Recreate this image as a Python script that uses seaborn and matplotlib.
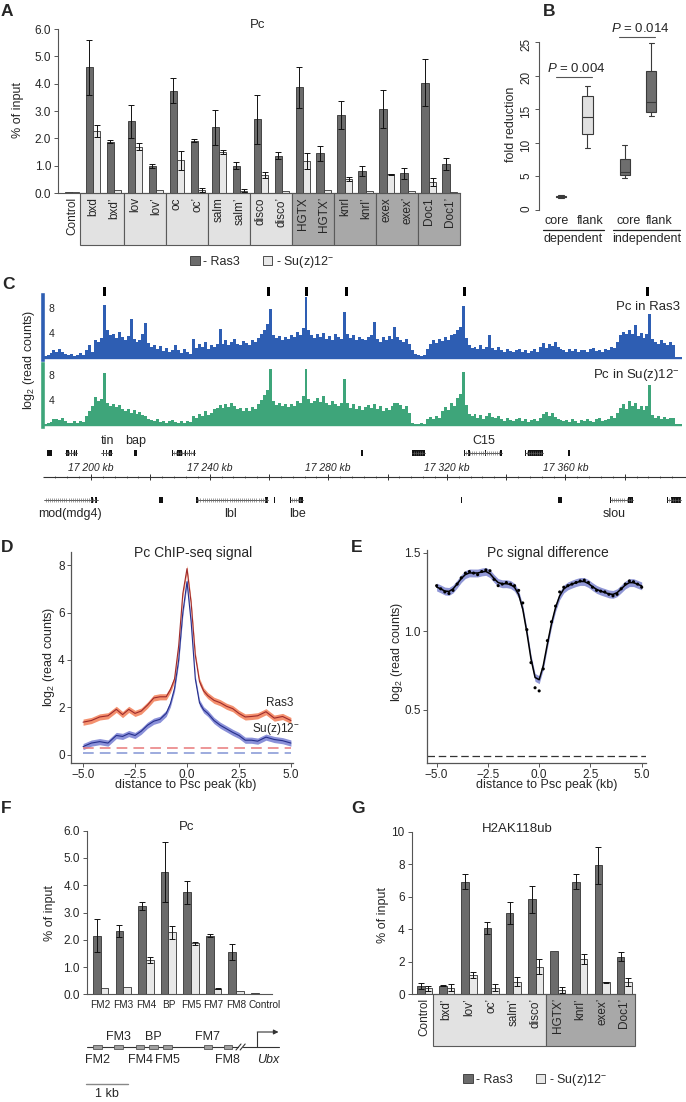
import numpy as np
import pandas as pd
import seaborn as sns
import matplotlib.pyplot as plt
from matplotlib.patches import Rectangle, Patch
from matplotlib.lines import Line2D
from matplotlib.transforms import ScaledTranslation

# ---------------- data ----------------
# Panel A: Pc ChIP-qPCR, % of input
a_sites = ["Control", "bxd", "bxd’", "lov", "lov’", "oc", "oc’", "salm", "salm’",
           "disco", "disco’", "HGTX", "HGTX’", "knrl", "knrl’", "exex", "exex’",
           "Doc1", "Doc1’"]
a_ras3 = [0.03, 4.60, 1.88, 2.62, 1.00, 3.75, 1.92, 2.40, 1.00, 2.70, 1.37,
          3.87, 1.45, 2.85, 0.80, 3.07, 0.72, 4.04, 1.06]
a_ras3_err = [0.0, 1.00, 0.05, 0.60, 0.07, 0.47, 0.05, 0.65, 0.13, 0.90, 0.12,
              0.75, 0.28, 0.50, 0.18, 0.70, 0.21, 0.85, 0.21]
a_suz12 = [0.02, 2.28, 0.10, 1.70, 0.10, 1.20, 0.10, 1.50, 0.08, 0.66, 0.08,
           1.17, 0.10, 0.52, 0.06, 0.68, 0.06, 0.41, 0.04]
a_suz12_err = [0.0, 0.22, 0.0, 0.13, 0.0, 0.35, 0.07, 0.08, 0.05, 0.10, 0.0,
               0.30, 0.0, 0.08, 0.0, 0.02, 0.0, 0.15, 0.0]

# Panel B: fold reduction (five-number summaries per group)
b_group = ["dependent"] * 10 + ["independent"] * 10
b_region = (["core"] * 5 + ["flank"] * 5) * 2
b_fold = [1.8, 1.9, 2.0, 2.1, 2.2,
          9.3, 11.3, 13.8, 16.9, 18.5,
          4.7, 5.2, 5.7, 7.6, 9.6,
          14.0, 14.6, 16.0, 20.7, 24.9]
b_pvalues = ["0.004", "0.014"]

# Panel C: genome browser tracks, 1 kb bins starting at 17 184 kb
track_start_kb = 17184
ras3_track = [
    0.3, 0.4, 0.8, 1.2, 1.0, 1.4, 0.9, 0.6, 0.4, 0.6, 0.3, 0.5, 0.8, 0.4,
    1.2, 2.1, 1.0, 2.9, 2.5, 3.2, 8.5, 4.5, 3.6, 3.9, 3.2, 4.1, 3.4, 2.8, 3.5,
    6.2, 3.0, 2.6, 2.9, 3.8, 5.6,
    2.4, 1.8, 2.1, 1.4, 1.9, 1.1, 1.6, 0.9, 1.3, 2.0, 1.2, 0.8, 1.5, 1.0, 0.7,
    3.0, 1.6, 2.2, 1.8, 2.5, 1.4, 2.0, 1.7, 2.3, 4.6,
    2.2, 2.8, 2.0, 2.6, 3.0, 2.3, 2.1, 2.7, 2.4, 2.0, 2.9, 2.5,
    3.2, 3.9, 4.4, 5.5, 7.9,
    3.6, 3.2, 3.5, 2.9, 3.4, 3.1, 3.7, 3.3, 4.2, 3.6, 4.8, 9.7,
    4.5, 3.6, 3.2, 3.9, 3.3, 4.0, 3.1, 3.5, 2.9, 3.8, 3.4, 3.0, 7.4,
    3.8, 3.2, 3.6, 2.9, 3.4, 3.1, 2.8, 3.3, 3.7, 5.8,
    3.1, 2.6, 3.3, 2.8, 3.5, 3.0, 5.0, 3.4, 2.8, 2.5, 3.0, 2.2,
    1.2, 0.7, 0.4, 0.3, 0.5, 1.5, 2.2, 2.8, 2.4, 3.0,
    2.7, 3.3, 2.9, 3.6, 3.8, 4.5, 5.0, 8.3,
    3.2, 2.0, 1.6, 1.8, 1.4, 2.1, 1.5, 1.7, 3.7, 1.6, 1.3, 1.8,
    1.2, 1.0, 1.4, 1.1, 0.9, 1.3, 1.5, 1.0, 1.2, 0.8, 1.1, 1.4, 1.0,
    1.8, 2.4, 1.6, 2.2, 1.9, 2.6, 1.7, 1.5,
    1.2, 1.0, 1.4, 1.1, 1.5, 0.9, 1.3, 1.2, 1.0, 1.4, 1.6, 1.1, 1.3, 1.0, 1.5,
    1.2, 1.8, 1.6,
    2.5, 3.6, 4.2, 3.8, 4.5, 3.9, 5.3, 3.5, 4.0, 3.2, 3.8, 7.0,
    3.0, 2.6, 2.2, 2.8, 2.4, 2.0, 2.5, 2.1, 0.1, 0.1, 0.1]
suz12_track = [
    0.2, 0.3, 0.5, 0.9, 1.0, 0.8, 1.1, 0.6, 0.4, 0.3, 0.6, 0.4, 0.7, 0.5,
    1.5, 2.3, 3.0, 4.5, 3.8, 4.2, 8.3, 3.5, 3.1, 3.4, 2.9, 3.2, 2.6, 2.2, 2.5,
    2.0, 2.4, 1.8, 2.1, 1.6,
    1.4, 1.0, 0.8, 0.6, 0.9, 0.5, 0.7, 0.4, 0.6, 0.8, 0.5, 0.3, 0.6, 0.4, 0.7,
    0.5, 1.5, 1.2, 1.8, 1.4, 2.3, 1.6, 2.0, 2.5, 2.8,
    3.2, 2.7, 3.4, 2.9, 3.5, 3.0, 2.6, 2.8, 2.3, 2.7, 2.2, 2.9, 2.5,
    3.4, 4.0, 4.8, 5.6, 9.0,
    3.8, 3.2, 3.5, 3.0, 3.4, 2.9, 3.3, 3.1, 3.9, 3.5, 4.6, 8.9,
    4.2, 3.6, 3.9, 4.4, 3.7, 4.6, 3.5, 3.2, 3.8, 3.4, 3.0, 3.6, 7.3,
    3.5, 2.8, 3.3, 2.6, 3.1, 2.4, 2.9, 3.2, 2.7, 3.4,
    2.5, 3.0, 2.2, 2.8, 2.4, 3.1, 3.6, 3.5, 3.2, 2.6, 3.0, 2.0,
    0.4, 0.2, 0.2, 0.3, 0.2, 1.0, 1.3, 0.9, 1.5, 1.2,
    2.2, 2.9, 2.4, 3.6, 3.0, 4.3, 5.0, 8.5,
    3.2, 1.8, 1.5, 1.7, 1.2, 1.6, 1.0, 1.4, 2.0, 1.3, 1.1, 1.5,
    0.9, 0.7, 1.1, 0.8, 0.6, 1.0, 1.2, 0.7, 0.9, 0.5, 0.8, 1.0, 0.6,
    1.2, 1.7, 2.1, 1.5, 1.9, 1.3, 1.0, 0.8,
    0.6, 0.8, 0.5, 0.9, 0.7, 0.4, 0.8, 0.6, 1.0, 0.7, 0.5, 0.9, 1.1, 0.6, 0.8,
    1.0, 1.4, 1.2,
    2.0, 2.8, 3.4, 2.6, 3.8, 3.0, 3.5, 2.6, 3.1, 2.4, 3.0, 6.4,
    1.6, 1.2, 1.4, 1.0, 1.3, 0.9, 1.2, 1.1, 0.1, 0.1, 0.1]
peak_kb = [17204.4, 17260.0, 17272.8, 17286.3, 17325.8, 17387.8]

# gene models (kb): start, end, exons, label, label position
genes_top = [
    (17185.1, 17186.8, [(17185.1, 17186.8)], "", None),
    (17191.2, 17195.3, [(17191.6, 17192.6), (17193.3, 17193.6), (17194.3, 17194.6), (17194.9, 17195.3)], "", None),
    (17203.5, 17207.2, [(17204.0, 17204.4), (17205.0, 17205.3), (17206.0, 17207.0)], "tin", 17205.6),
    (17214.5, 17215.5, [(17214.5, 17215.5)], "bap", 17215.0),
    (17227.3, 17234.9, [(17227.3, 17227.6), (17229.0, 17230.7), (17231.6, 17231.9), (17232.9, 17233.2), (17234.6, 17234.9)], "", None),
    (17291.0, 17291.7, [(17291.0, 17291.7)], "", None),
    (17308.2, 17312.6, [(17308.2, 17312.6)], "", None),
    (17325.8, 17338.5, [(17325.8, 17326.1), (17327.3, 17327.6), (17333.0, 17333.3), (17337.9, 17338.5)], "C15", 17332.4),
    (17346.3, 17352.5, [(17346.3, 17346.6), (17347.4, 17352.3)], "", None),
    (17360.9, 17361.6, [(17360.9, 17361.6)], "", None),
]
genes_bottom = [
    (17184.0, 17202.2, [(17200.0, 17200.7), (17201.3, 17202.0)], "mod(mdg4)", 17192.9),
    (17222.9, 17224.2, [(17222.9, 17224.2)], "", None),
    (17235.5, 17259.7, [(17235.5, 17236.0), (17258.8, 17259.7)], "lbl", 17247.2),
    (17261.7, 17261.9, [(17261.7, 17261.9)], "", None),
    (17267.1, 17271.5, [(17267.1, 17267.4), (17270.1, 17271.5)], "lbe", 17269.8),
    (17324.8, 17325.1, [(17324.8, 17325.1)], "", None),
    (17357.5, 17358.8, [(17357.5, 17358.8)], "", None),
    (17375.0, 17382.8, [(17375.0, 17375.4), (17381.1, 17382.8)], "slou", 17376.5),
    (17394.3, 17399.0, [(17394.3, 17394.6), (17395.6, 17399.0)], "", None),
]

# Panel D: Pc ChIP-seq meta profile
d_dist = [-5.0, -4.6, -4.2, -3.8, -3.4, -3.1, -2.8, -2.5, -2.2, -1.9, -1.6, -1.3,
          -1.0, -0.8, -0.6, -0.4, -0.2, 0.0, 0.2, 0.4, 0.6, 0.8, 1.0, 1.3, 1.6,
          1.9, 2.2, 2.5, 2.8, 3.1, 3.4, 3.8, 4.2, 4.6, 5.0]
d_ras3 = [1.38, 1.45, 1.60, 1.65, 1.92, 1.70, 1.92, 1.75, 1.85, 2.10, 2.40, 2.45,
          2.45, 2.75, 3.20, 4.60, 6.80, 7.85, 6.40, 4.20, 3.10, 2.70, 2.50, 2.30,
          2.20, 2.05, 1.95, 1.75, 1.60, 1.62, 1.65, 1.82, 1.55, 1.62, 1.45]
d_suz12 = [0.35, 0.50, 0.56, 0.50, 0.82, 0.78, 0.90, 0.82, 1.00, 1.25, 1.42, 1.50,
           1.75, 2.15, 2.80, 4.00, 6.00, 7.30, 5.60, 3.20, 2.20, 1.90, 1.75, 1.45,
           1.25, 1.10, 0.95, 0.82, 0.62, 0.62, 0.58, 0.75, 0.65, 0.60, 0.50]
d_ras3_bg = 0.30
d_suz12_bg = 0.10

# Panel E: Pc signal difference (Ras3 - Su(z)12-)
e_dist = np.round(np.linspace(-5, 5, 51), 1)
e_diff = [1.29, 1.27, 1.25, 1.24, 1.26, 1.30, 1.34, 1.37, 1.38, 1.37, 1.36, 1.38,
          1.39, 1.385, 1.33, 1.29, 1.30, 1.31, 1.30, 1.29, 1.26, 1.18, 1.01, 0.80,
          0.64, 0.62, 0.76, 0.94, 1.06, 1.16, 1.25, 1.28, 1.29, 1.30, 1.31, 1.32,
          1.325, 1.31, 1.28, 1.26, 1.255, 1.25, 1.235, 1.225, 1.235, 1.27, 1.30,
          1.32, 1.315, 1.30, 1.28]
e_background = 0.207

# Panel F: Pc along Ubx upstream region
f_sites = ["FM2", "FM3", "FM4", "BP", "FM5", "FM7", "FM8", "Control"]
f_ras3 = [2.15, 2.32, 3.25, 4.47, 3.74, 2.15, 1.54, 0.04]
f_ras3_err = [0.60, 0.22, 0.15, 1.10, 0.42, 0.05, 0.30, 0.0]
f_suz12 = [0.24, 0.28, 1.26, 2.27, 1.87, 0.21, 0.11, 0.01]
f_suz12_err = [0.0, 0.0, 0.10, 0.25, 0.06, 0.02, 0.0, 0.0]
# Ubx map (kb from left end)
f_map_names = ["FM2", "FM3", "FM4", "BP", "FM5", "FM7", "FM8"]
f_map_start = [0.15, 0.66, 1.19, 1.49, 1.83, 2.81, 3.29]
f_map_end = [0.37, 0.87, 1.38, 1.71, 2.05, 3.00, 3.48]
f_map_above = [False, True, False, True, False, True, False]
f_ubx_tss = 4.09

# Panel G: H2AK118ub
g_sites = ["Control", "bxd’", "lov’", "oc’", "salm’", "disco’", "HGTX’", "knrl’",
           "exex’", "Doc1’"]
g_ras3 = [0.53, 0.53, 6.93, 4.10, 5.02, 5.84, 2.68, 6.93, 7.93, 2.32]
g_ras3_err = [0.18, 0.05, 0.45, 0.37, 0.68, 0.84, 0.0, 0.45, 1.15, 0.26]
g_suz12 = [0.37, 0.41, 1.19, 0.41, 0.78, 1.70, 0.27, 2.17, 0.74, 0.76]
g_suz12_err = [0.15, 0.20, 0.20, 0.20, 0.30, 0.45, 0.16, 0.30, 0.03, 0.22]

# ---------------- style ----------------
sns.set_theme(style="ticks")
plt.rcParams["font.family"] = ["Liberation Sans", "DejaVu Sans"]
plt.rcParams["mathtext.fontset"] = "custom"
plt.rcParams["mathtext.rm"] = "Liberation Sans"
plt.rcParams["mathtext.it"] = "Liberation Sans:italic"
plt.rcParams["mathtext.default"] = "regular"
plt.rcParams["font.size"] = 8

DARK = "#6b6b6b"
LIGHT = "#e8e8e8"
BOX_LIGHT = "#e2e2e2"
BOX_DARK = "#a8a8a8"
BLUE = "#2e5eb3"
GREEN = "#3ea57a"
W, H = 686, 1102

fig = plt.figure(figsize=(W / 100, H / 100), dpi=100)


def px_axes(x0, y0, x1, y1):
    return fig.add_axes([x0 / W, 1 - y1 / H, (x1 - x0) / W, (y1 - y0) / H])


def ftext(x, y, s, **kw):
    kw.setdefault("ha", "center")
    kw.setdefault("va", "center")
    kw.setdefault("fontsize", 8.5)
    fig.text(x / W, 1 - y / H, s, **kw)


def fline(xs, ys, **kw):
    fig.add_artist(Line2D([x / W for x in xs], [1 - y / H for y in ys], **kw))


def bar_panel(ax, sites, ras3, ras3_err, suz, suz_err, width):
    n = len(sites)
    df = pd.DataFrame({"site": sites + sites,
                       "strain": ["Ras3"] * n + ["Su(z)12"] * n,
                       "value": ras3 + suz})
    sns.barplot(data=df, x="site", y="value", hue="strain", order=sites,
                palette={"Ras3": DARK, "Su(z)12": LIGHT}, saturation=1,
                width=width, errorbar=None, edgecolor="#333333", linewidth=0.6,
                legend=False, ax=ax)
    for cont, errs in zip(list(ax.containers[:2]), [ras3_err, suz_err]):
        for bar in cont:
            xc = bar.get_x() + bar.get_width() / 2
            i = int(round(xc))
            if errs[i] > 0:
                ax.errorbar(xc, bar.get_height(), yerr=errs[i], fmt="none",
                            ecolor="#111111", elinewidth=0.7, capsize=2.2,
                            capthick=0.7, zorder=3)
    ax.set_xlabel("")
    ax.set_ylabel("")
    sns.despine(ax=ax)
    for sp in ax.spines.values():
        sp.set_color("#555555")
        sp.set_linewidth(0.8)
    ax.tick_params(axis="y", labelsize=8.5, length=3, width=0.7, color="#555555", pad=2)


def site_table(ax, sites, boxes, label_y, box_bottom):
    tr = ax.get_xaxis_transform()
    for x0, x1, color in boxes:
        ax.add_patch(Rectangle((x0, box_bottom), x1 - x0, -box_bottom, transform=tr,
                               clip_on=False, fc=color, ec="#5a5a5a", lw=0.8, zorder=0))
    ax.set_xticks([])
    for i, s in enumerate(sites):
        ax.text(i, label_y, s, transform=tr, rotation=90, ha="center", va="top",
                fontsize=8.5)


def strain_legend(x, y):
    handles = [Patch(fc=DARK, ec="#333333", lw=0.6), Patch(fc=LIGHT, ec="#333333", lw=0.6)]
    fig.legend(handles, ["- Ras3", "- Su(z)12$^{-}$"], ncol=2, frameon=False,
               handlelength=0.75, handleheight=0.75, handletextpad=0.3,
               columnspacing=1.8, fontsize=9, loc="center",
               bbox_to_anchor=(x / W, 1 - y / H), bbox_transform=fig.transFigure)


# ---------------- panel A ----------------
ax_a = px_axes(58, 29, 460, 193)
bar_panel(ax_a, a_sites, a_ras3, a_ras3_err, a_suz12, a_suz12_err, 0.71)
ax_a.set_xlim(-0.667, 18.48)
ax_a.set_ylim(0, 6)
ax_a.set_yticks(np.arange(0, 6.1, 1.0))
ax_a.set_yticklabels([f"{v:.1f}" for v in np.arange(0, 6.1, 1.0)])
a_boxes = [(0.4, 2.5, BOX_LIGHT), (2.5, 4.5, BOX_LIGHT), (4.5, 6.5, BOX_LIGHT),
           (6.5, 8.5, BOX_LIGHT), (8.5, 10.5, BOX_LIGHT), (10.5, 12.5, BOX_DARK),
           (12.5, 14.5, BOX_DARK), (14.5, 16.5, BOX_DARK), (16.5, 18.5, BOX_DARK)]
site_table(ax_a, a_sites, a_boxes, -0.025, -52 / 164)
ftext(258, 25, "Pc", fontsize=9.5)
ftext(18, 110, "% of input", rotation=90, fontsize=9)
strain_legend(262, 262)

# ---------------- panel B ----------------
ax_b = px_axes(539, 42, 686, 210)
b_df = pd.DataFrame({"group": b_group, "region": b_region, "fold": b_fold})
b_df["pos"] = (b_df["group"].map({"dependent": 0.0, "independent": 2.46})
               + b_df["region"].map({"core": 0.0, "flank": 1.02}))
sns.boxplot(data=b_df, x="pos", y="fold", hue="group", native_scale=True, dodge=False,
            palette={"dependent": "#e0e0e0", "independent": "#6e6e6e"}, saturation=1,
            width=0.38, linecolor="#3a3a3a", linewidth=0.8, fliersize=0,
            legend=False, ax=ax_b)
ax_b.set_xlim(-0.846, 4.81)
ax_b.set_ylim(0, 25)
ax_b.set_yticks(range(0, 26, 5))
ax_b.set_xticks([])
ax_b.set_xlabel("")
ax_b.set_ylabel("")
sns.despine(ax=ax_b, bottom=True)
ax_b.spines["left"].set_color("#555555")
ax_b.spines["left"].set_linewidth(0.8)
ax_b.tick_params(axis="y", labelrotation=90, labelsize=8.5, length=3, width=0.7,
                 color="#555555", pad=2)
ftext(511, 124, "fold reduction", rotation=90, fontsize=9)
fline([556, 592], [77, 77], color="#555555", lw=0.8)
fline([619, 655], [37, 37], color="#555555", lw=0.8)
ftext(576, 68, r"$\mathit{P}$ = " + b_pvalues[0], fontsize=9.5)
ftext(640, 28, r"$\mathit{P}$ = " + b_pvalues[1], fontsize=9.5)
for xc, s in zip([557, 590, 629, 659], ["core", "flank", "core", "flank"]):
    ftext(xc, 221, s, fontsize=9)
fline([543, 604], [230, 230], color="#222222", lw=0.9)
fline([613, 680], [230, 230], color="#222222", lw=0.9)
ftext(573, 239, "dependent", fontsize=9)
ftext(647, 239, "independent", fontsize=9)

# ---------------- panel C ----------------
PX_PER_KB = 2.965


def kb_at(x):
    return track_start_kb + (x - 43.6) / PX_PER_KB


bin_centers = track_start_kb + 0.5 + np.arange(len(ras3_track))
for (y0, y1, zero_px, vals, color) in [(295, 360, 358, ras3_track, BLUE),
                                       (364, 427, 425, suz12_track, GREEN)]:
    ax = px_axes(43, y0, 682, y1)
    ax.bar(bin_centers, vals, width=1.0, color=color, lw=0)
    ax.axhline(0, color=color, lw=1.0)
    ax.set_xlim(kb_at(43), kb_at(682))
    ax.set_ylim(-(y1 - zero_px) / 6.25, (zero_px - y0) / 6.25)
    ax.set_xticks([])
    ax.set_yticks([4, 8])
    ax.tick_params(axis="y", length=0, pad=-4, labelsize=7.5)
    for lab in ax.get_yticklabels():
        lab.set_ha("left")
    for side in ["top", "right", "bottom"]:
        ax.spines[side].set_visible(False)
    ax.spines["left"].set_color(color)
    ax.spines["left"].set_linewidth(2.6)
    ax.patch.set_alpha(0)

ax_pk = px_axes(43, 287, 682, 296)
ax_pk.bar(peak_kb, [1] * len(peak_kb), width=1.0, color="black", lw=0)
ax_pk.set_xlim(kb_at(43), kb_at(682))
ax_pk.set_ylim(0, 1)
ax_pk.axis("off")

ftext(680, 307, "Pc in Ras3", ha="right", fontsize=9.5)
ftext(680, 375, "Pc in Su(z)12$^{-}$", ha="right", fontsize=9.5)
ftext(29, 360, "log$_2$ (read counts)", rotation=90, fontsize=9)

ax_gn = px_axes(43, 430, 686, 525)
ax_gn.set_xlim(kb_at(43), kb_at(686))
ax_gn.set_ylim(525, 430)
ax_gn.axis("off")
ax_gn.hlines(477, kb_at(43), kb_at(686), color="#333333", lw=0.8)
for k in range(17188, 17400, 4):
    ax_gn.vlines(k, 475.8, 478.2, color="#333333", lw=0.5)
for k in range(17200, 17400, 20):
    ax_gn.vlines(k, 474, 480, color="#333333", lw=0.7)
for k in range(17200, 17400, 40):
    ax_gn.text(k, 468, f"{k // 1000} {k % 1000:03d} kb", ha="center", va="center",
               fontsize=7.5, style="italic")


def draw_genes(ax, genes, y, label_y):
    for start, end, exons, name, lab_x in genes:
        if end - start > 2.5:
            ax.plot([start, end], [y, y], color="#444444", lw=0.6)
            ticks = np.arange(start + 0.7, end - 0.3, 0.7)
            ax.plot(ticks, [y] * len(ticks), ls="none", marker="|", ms=2.2,
                    mew=0.45, color="#666666")
        for s, e in exons:
            ax.add_patch(Rectangle((s, y - 3.2), max(e - s, 0.35), 6.4, fc="#111111",
                                   lw=0))
        if name:
            ax.text(lab_x, label_y, name, ha="center", va="center", fontsize=9)


draw_genes(ax_gn, genes_top, 453, 441)
draw_genes(ax_gn, genes_bottom, 500, 514)

# ---------------- panel D ----------------
ax_d = px_axes(71, 552, 293, 763)
d_x = np.array(d_dist)
ax_d.fill_between(d_x, np.array(d_ras3) - 0.13, np.array(d_ras3) + 0.13,
                  color="#f4916f", lw=0)
ax_d.fill_between(d_x, np.array(d_suz12) - 0.13, np.array(d_suz12) + 0.13,
                  color="#8b91d9", lw=0)
sns.lineplot(x=d_x, y=d_ras3, color="#9e2a2b", lw=0.8, ax=ax_d)
sns.lineplot(x=d_x, y=d_suz12, color="#262f8c", lw=0.8, ax=ax_d)
ax_d.hlines(d_ras3_bg, -5, 5, color="#e8797a", lw=1.1, ls=(0, (7, 4)))
ax_d.hlines(d_suz12_bg, -5, 5, color="#8394d4", lw=1.1, ls=(0, (7, 4)))
ax_d.set_xlim(-5.58, 5.1)
ax_d.set_ylim(-0.34, 8.55)
ax_d.set_xticks([-5.0, -2.5, 0.0, 2.5, 5.0])
ax_d.set_xticklabels(["−5.0", "−2.5", "0.0", "2.5", "5.0"])
ax_d.set_yticks([0, 2, 4, 6, 8])
ftext(193, 553, "Pc ChIP-seq signal", fontsize=10)
ftext(186, 785, "distance to Psc peak (kb)", fontsize=9)
ftext(49, 657, "log$_2$ (read counts)", rotation=90, fontsize=9)
ftext(280, 703, "Ras3", fontsize=8.5)
ftext(276, 729, "Su(z)12$^{-}$", fontsize=8.5)

# ---------------- panel E ----------------
ax_e = px_axes(427, 550, 646, 763)
e_y = np.array(e_diff)
e_fit = e_y.copy()
for _ in range(2):
    e_fit = np.convolve(np.pad(e_fit, 1, mode="edge"), [0.25, 0.5, 0.25], "valid")
ax_e.fill_between(e_dist, e_fit - 0.025, e_fit + 0.025, color="#9097d6", lw=0)
sns.lineplot(x=e_dist, y=e_fit, color="black", lw=1.1, ax=ax_e)
sns.scatterplot(x=e_dist, y=e_y, color="black", s=5, edgecolor="none", ax=ax_e,
                zorder=4)
ax_e.axhline(e_background, color="#333333", lw=0.9, ls=(0, (6, 3)))
ax_e.set_xlim(-5.47, 5.21)
ax_e.set_ylim(0.161, 1.517)
ax_e.set_xticks([-5.0, -2.5, 0.0, 2.5, 5.0])
ax_e.set_xticklabels(["−5.0", "−2.5", "0.0", "2.5", "5.0"])
ax_e.set_yticks([0.5, 1.0, 1.5])
ftext(548, 553, "Pc signal difference", fontsize=10)
ftext(547, 785, "distance to Psc peak (kb)", fontsize=9)
ftext(397, 652, "log$_2$ (read counts)", rotation=90, fontsize=9)

for ax in (ax_d, ax_e):
    sns.despine(ax=ax)
    for sp in ax.spines.values():
        sp.set_color("#555555")
        sp.set_linewidth(0.9)
    ax.tick_params(labelsize=8.5, length=3, width=0.7, color="#555555", pad=1.5)
    ax.set_xlabel("")
    ax.set_ylabel("")

# ---------------- panel F ----------------
ax_f = px_axes(86.7, 830.7, 271.7, 994.3)
bar_panel(ax_f, f_sites, f_ras3, f_ras3_err, f_suz12, f_suz12_err, 0.69)
ax_f.set_xlim(-0.62, 7.57)
ax_f.set_ylim(0, 6)
ax_f.set_yticks(np.arange(0, 6.1, 1.0))
ax_f.set_yticklabels([f"{v:.1f}" for v in np.arange(0, 6.1, 1.0)])
ax_f.tick_params(axis="x", length=0, labelsize=7.2, pad=4)
ctrl_label = ax_f.get_xticklabels()[-1]
ctrl_label.set_transform(ctrl_label.get_transform()
                         + ScaledTranslation(4 / 72, 0, fig.dpi_scale_trans))
ftext(187, 827, "Pc", fontsize=9.5)
ftext(50, 913, "% of input", rotation=90, fontsize=9)

ax_m = px_axes(80, 1025, 300, 1100)
ax_m.set_xlim((80 - 86.7) / 41.7, (300 - 86.7) / 41.7)
ax_m.set_ylim(1100, 1025)
ax_m.axis("off")
ax_m.plot([0, 3.62], [1047, 1047], color="#333333", lw=0.8)
ax_m.plot([3.76, 4.6], [1047, 1047], color="#333333", lw=0.8)
for xb in (3.62, 3.72):
    ax_m.plot([xb - 0.04, xb + 0.08], [1050, 1044], color="#333333", lw=0.8)
for name, s, e, above in zip(f_map_names, f_map_start, f_map_end, f_map_above):
    ax_m.add_patch(Rectangle((s, 1045.3), e - s, 3.4, fc="#a0a0a0", ec="#555555",
                             lw=0.6, zorder=3))
    ax_m.text((s + e) / 2, 1037 if above else 1060, name, ha="center", va="center",
              fontsize=9)
ax_m.plot([f_ubx_tss, f_ubx_tss], [1047, 1032], color="#333333", lw=0.8)
ax_m.annotate("", xy=(4.6, 1032), xytext=(f_ubx_tss, 1032),
              arrowprops=dict(arrowstyle="-|>", color="#333333", lw=0.8,
                              mutation_scale=7, shrinkA=0, shrinkB=0))
ax_m.text(4.36, 1060, "Ubx", ha="center", va="center", fontsize=9, style="italic")
ax_m.plot([-0.02, 0.98], [1084, 1084], color="#888888", lw=1.0)
ax_m.text(0.48, 1094, "1 kb", ha="center", va="center", fontsize=9)

# ---------------- panel G ----------------
ax_gb = px_axes(411.7, 831.7, 635, 994.3)
bar_panel(ax_gb, g_sites, g_ras3, g_ras3_err, g_suz12, g_suz12_err, 0.68)
ax_gb.set_xlim(-0.58, 9.48)
ax_gb.set_ylim(0, 10)
ax_gb.set_yticks(range(0, 11, 2))
g_boxes = [(0.4, 5.47, BOX_LIGHT), (5.47, 9.48, BOX_DARK)]
site_table(ax_gb, g_sites, g_boxes, -0.023, -52 / 162.6)
ftext(517, 829, "H2AK118ub", fontsize=9.5)
ftext(383, 915, "% of input", rotation=90, fontsize=9)
strain_legend(535, 1080)

# ---------------- panel letters ----------------
for letter, (x, y) in {"A": (1, 4), "B": (543, 4), "C": (2, 277), "D": (1, 540),
                       "E": (351, 540), "F": (1, 801), "G": (351, 801)}.items():
    ftext(x, y, letter, ha="left", va="top", fontsize=12.5, fontweight="bold")

fig.savefig("out.png", dpi=100)
